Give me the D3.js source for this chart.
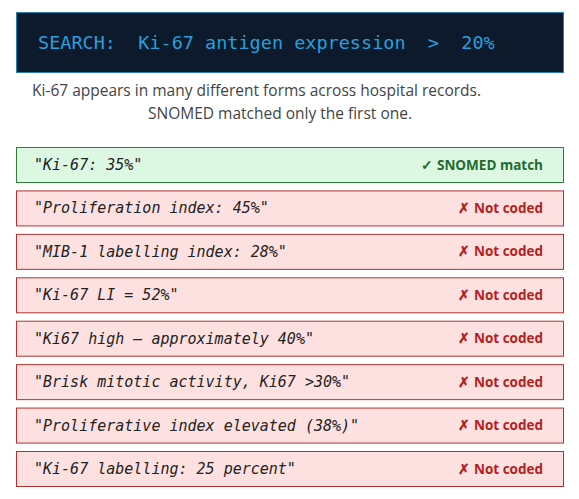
<!DOCTYPE html>
<html><head><meta charset="utf-8">
<script src="https://cdn.jsdelivr.net/npm/d3@7"></script>
<style>body{margin:0;background:#fff}</style>
</head><body><div id="chart"></div>
<script>
// data
let phrases = ["Ki-67: 35%", "Proliferation index: 45%", "MIB-1 labelling index: 28%",
    "Ki-67 LI = 52%", "Ki67 high \u2014 approximately 40%", "Brisk mitotic activity, Ki67 >30%",
    "Proliferative index elevated (38%)", "Ki-67 labelling: 25 percent"];
let matched = [true, false, false, false, false, false, false, false];
let searchText = "SEARCH:  Ki-67 antigen expression  >  20%";
let subtitle = ["Ki-67 appears in many different forms across hospital records.", "SNOMED matched only the first one."];

let svg = d3.select("#chart").append("svg").attr("width", 579).attr("height", 499);

// search banner
svg.append("rect").attr("x", 16.5).attr("y", 12.5).attr("width", 547).attr("height", 60)
    .attr("fill", "#0d1a2b").attr("stroke", "#2a7fa8");
svg.append("text").attr("x", 38).attr("y", 49).text(searchText)
    .attr("font-family", "DejaVu Sans Mono").attr("font-size", 18.5).attr("fill", "#2a9fdc")
    .attr("xml:space", "preserve").style("white-space", "pre");

// subtitle
svg.selectAll(".sub").data(subtitle).join("text")
    .attr("x", (d, i) => i == 0 ? 32 : 148).attr("y", (d, i) => 96 + i * 23)
    .attr("font-family", "Open Sans").attr("font-size", 15.5).attr("fill", "#444")
    .text(d => d);

let y = d3.scaleLinear().domain([0, 7]).range([147, 451]);

let rows = svg.selectAll(".row").data(phrases).join("g")
    .attr("transform", (d, i) => `translate(0,${y(i)})`);
rows.append("rect").attr("x", 16.5).attr("y", 0.5).attr("width", 547).attr("height", 35)
    .attr("fill", (d, i) => matched[i] ? "#dcf8e3" : "#fde1e1")
    .attr("stroke", (d, i) => matched[i] ? "#2e7d3a" : "#b23030");
rows.append("text").attr("x", 34).attr("y", 23).text(d => `"${d}"`)
    .attr("font-family", "DejaVu Sans Mono").attr("font-style", "italic")
    .attr("font-size", 15).attr("fill", "#222");
rows.append("text").attr("x", 543).attr("y", 22.5).attr("text-anchor", "end")
    .text((d, i) => matched[i] ? "\u2713 SNOMED match" : "\u2717 Not coded")
    .attr("font-family", "Open Sans").attr("font-weight", "bold").attr("font-size", 13.5)
    .attr("fill", (d, i) => matched[i] ? "#1f6b2d" : "#b21f1f");
</script></body></html>
